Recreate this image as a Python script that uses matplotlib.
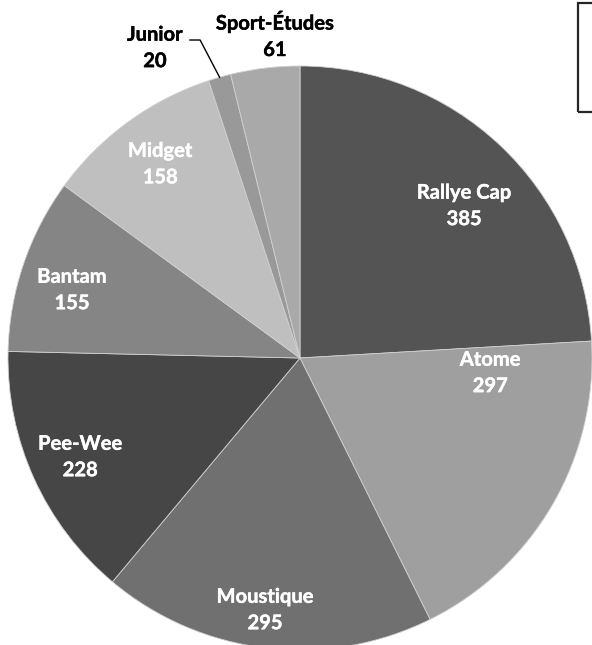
import numpy as np
import matplotlib.pyplot as plt
import matplotlib.patheffects as pe
from matplotlib.patches import Rectangle

# data
categories = ['Rallye Cap', 'Atome', 'Moustique', 'Pee-Wee', 'Bantam', 'Midget', 'Junior', 'Sport-Études']
values = [385, 297, 295, 228, 155, 158, 20, 61]
colors = ['#545454', '#9f9f9f', '#707070', '#464646', '#858585', '#bfbfbf', '#999999', '#a9a9a9']

# label anchors (pie radius = 1), Excel "best fit" style
label_pos = [(0.562, 0.521), (0.651, -0.051), (-0.12, -0.863), (-0.753, -0.339),
             (-0.781, 0.233), (-0.479, 0.664), (-0.497, 1.062), (-0.086, 1.106)]
label_colors = ['white'] * 6 + ['black', 'black']

plt.rcParams['font.family'] = ['Lato', 'DejaVu Sans']

fig = plt.figure(figsize=(5.92, 6.45), dpi=100)
W, H = 592, 645
cx, cy, r = 300, 645 - 358, 292
ax = fig.add_axes([(cx - r) / W, (cy - r) / H, 2 * r / W, 2 * r / H])

wedges, _ = ax.pie(values, colors=colors, startangle=90, counterclock=False, radius=1,
                   wedgeprops=dict(edgecolor='#d0d0d0', linewidth=0.6))
ax.set_xlim(-1, 1)
ax.set_ylim(-1, 1)
ax.set_aspect('equal')
ax.axis('off')

for name, v, (x, y), c in zip(categories, values, label_pos, label_colors):
    ax.text(x, y, f'{name}\n{v}', ha='center', va='center', color=c,
            fontsize=14.5, fontweight='bold', linespacing=1.4, clip_on=False,
            path_effects=[pe.withStroke(linewidth=0.3, foreground=c)])

# leader line for Junior
w = wedges[6]
ang = np.deg2rad((w.theta1 + w.theta2) / 2)
ex, ey = np.cos(ang), np.sin(ang)
ax.plot([-0.377, -0.342, ex], [1.089, 1.089, ey], color='black', lw=1, clip_on=False)

# empty legend box partially visible at top right
fig.patches.append(Rectangle((578 / W, 1 - 112 / H), 30 / W, 109 / H, transform=fig.transFigure,
                             fill=False, edgecolor='#262626', linewidth=1.6))

fig.savefig('out.png', dpi=100)
